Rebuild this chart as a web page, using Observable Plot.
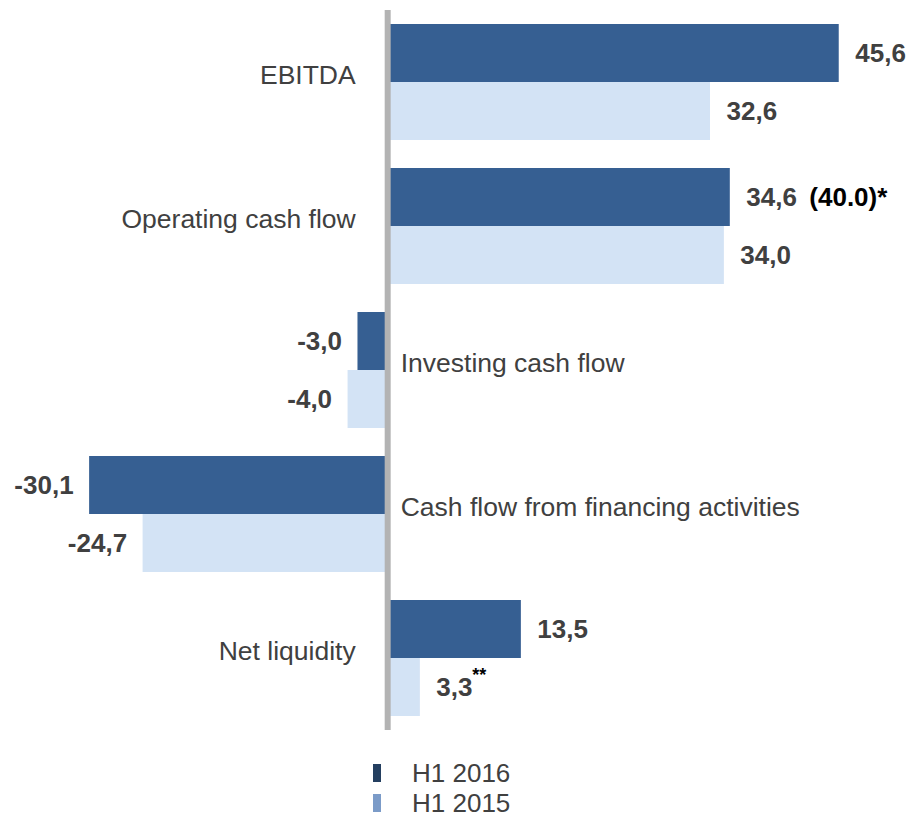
<!DOCTYPE html>
<html>
<head>
<meta charset="utf-8">
<script src="https://cdn.jsdelivr.net/npm/d3@7"></script>
<script src="https://cdn.jsdelivr.net/npm/@observablehq/plot@0.6"></script>
<style>
  html, body { margin: 0; padding: 0; background: #fff; }
  body { width: 913px; font-family: "Liberation Sans", Arial, sans-serif; }
  #legend { margin-top: 13px; margin-left: 373px; }
  .row { display: flex; align-items: center; height: 30px; }
  .sw { width: 8px; height: 18px; margin-right: 31px; }
  .lbl { font-size: 26px; line-height: 28px; color: #404040; }
</style>
</head>
<body>
<div id="chart"></div>
<div id="legend"></div>
<script>
const categories = ["EBITDA", "Operating cash flow", "Investing cash flow", "Cash flow from financing activities", "Net liquidity"];
const series = ["H1 2016", "H1 2015"];
const h1_2016 = [45.6, 34.6, -3.0, -30.1, 13.5];
const h1_2015 = [32.6, 34.0, -4.0, -24.7, 3.3];
const barColors = ["#365F92", "#D3E3F5"];
const legendColors = ["#243F60", "#7B9BC8"];
const notes = [
  {category: "Operating cash flow", series: "H1 2016", text: "(40.0)*"},
  {category: "Net liquidity", series: "H1 2015", text: "**"}
];

const rows = [];
categories.forEach((c, i) => {
  rows.push({category: c, series: series[0], value: h1_2016[i]});
  rows.push({category: c, series: series[1], value: h1_2015[i]});
});
const fmt = v => v.toFixed(1).replace(".", ",");
const catRows = categories.map((c, i) => ({category: c, positive: h1_2016[i] >= 0}));
const noteRows = notes.map(n => ({...n, value: rows.find(r => r.category === n.category && r.series === n.series).value}));

const font = "Liberation Sans, Arial, sans-serif";

const chart = Plot.plot({
  width: 913,
  height: 745,
  marginLeft: 0,
  marginRight: 0,
  marginTop: 24,
  marginBottom: 29,
  style: {fontFamily: font, background: "#fff"},
  x: {domain: [-39.1, 53.1], axis: null},
  y: {domain: series, padding: 0, axis: null},
  fy: {domain: categories, paddingInner: 28 / 144, paddingOuter: 0, axis: null},
  color: {domain: series, range: barColors},
  marks: [
    Plot.barX(rows, {x: "value", y: "series", fy: "category", fill: "series"}),
    Plot.ruleX(categories, {x: () => 0, fy: d => d, stroke: "#B3B3B3", strokeWidth: 6, insetTop: -14, insetBottom: -14}),
    Plot.text(rows.filter(r => r.value >= 0), {x: "value", y: "series", fy: "category", text: d => fmt(d.value), textAnchor: "start", dx: 16, fontSize: 26, fontWeight: "bold", fill: "#404040"}),
    Plot.text(rows.filter(r => r.value < 0), {x: "value", y: "series", fy: "category", text: d => fmt(d.value), textAnchor: "end", dx: -16, fontSize: 26, fontWeight: "bold", fill: "#404040"}),
    Plot.text(catRows.filter(d => d.positive), {x: () => 0, fy: "category", text: "category", frameAnchor: "middle", textAnchor: "end", dx: -32, dy: -7, fontSize: 26.5, fill: "#404040"}),
    Plot.text(catRows.filter(d => !d.positive), {x: () => 0, fy: "category", text: "category", frameAnchor: "middle", textAnchor: "start", dx: 13, dy: -7, fontSize: 26.5, fill: "#404040"}),
    Plot.text(noteRows.filter(n => n.text !== "**"), {x: "value", y: "series", fy: "category", text: "text", textAnchor: "start", dx: 79, fontSize: 26, fontWeight: "bold", fill: "#000"}),
    Plot.text(noteRows.filter(n => n.text === "**"), {x: "value", y: "series", fy: "category", text: "text", textAnchor: "start", dx: 52, dy: -12, fontSize: 18, fontWeight: "bold", fill: "#000"})
  ]
});
document.getElementById("chart").appendChild(chart);

const legend = document.getElementById("legend");
series.forEach((s, i) => {
  const row = document.createElement("div");
  row.className = "row";
  const sw = document.createElement("div");
  sw.className = "sw";
  sw.style.background = legendColors[i];
  const lbl = document.createElement("div");
  lbl.className = "lbl";
  lbl.textContent = s;
  row.appendChild(sw);
  row.appendChild(lbl);
  legend.appendChild(row);
});
</script>
</body>
</html>
